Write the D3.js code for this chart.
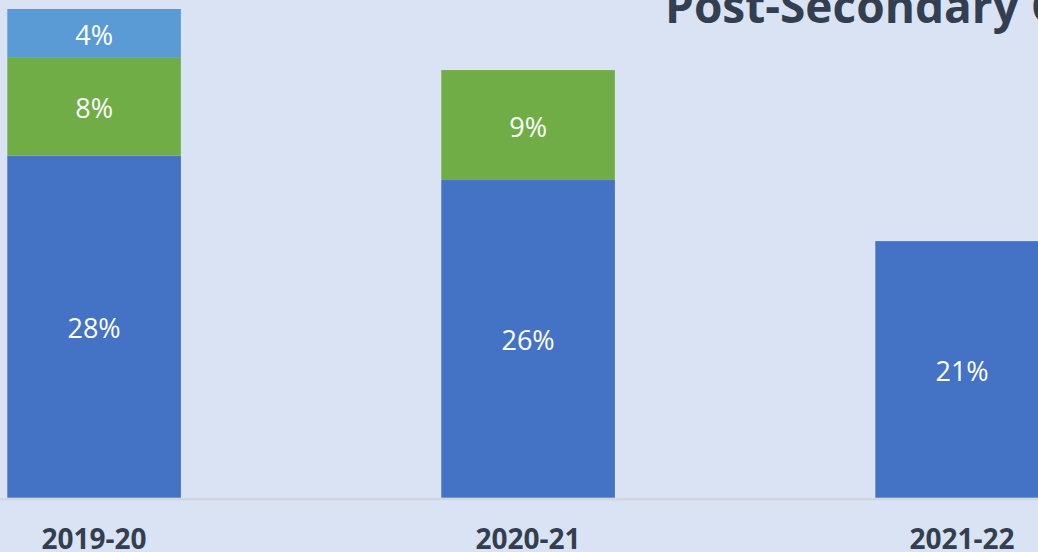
<!DOCTYPE html>
<html>
  <head>
    <meta charset="UTF-8">
    <title>Post-Secondary</title>
    <script src="https://d3js.org/d3.v7.min.js"></script>
    <style>
      body { margin: 0; overflow: hidden; background: #DAE3F3; }
    </style>
  </head>
  <body>
    <svg width="1038" height="552"></svg>

    <script>

const years = ["2019-20", "2020-21", "2021-22"];
const series = ["s1", "s2", "s3"];
const s1Values = [28, 26, 21];
const s2Values = [8, 9, 0];
const s3Values = [4, 0, 0];
const colors = ["#4472C4", "#70AD47", "#5B9BD5"];

const rows = years.map((y, i) => ({ year: y, s1: s1Values[i], s2: s2Values[i], s3: s3Values[i] }));

const svg = d3.select("svg");
const width = +svg.attr("width");
const height = +svg.attr("height");

svg.append("rect")
  .attr("width", width)
  .attr("height", height)
  .attr("fill", "#DAE3F3");

// the picture is a crop of a wider slide, so the band range runs past the right edge
const x = d3.scaleBand()
  .domain(years)
  .range([-122.9, 1179.1])
  .paddingInner(0.6)
  .paddingOuter(0.3);

const y = d3.scaleLinear()
  .domain([0, 40])
  .range([497.7, 9]);

const stacked = d3.stack().keys(series)(rows);

// axis line
svg.append("line")
  .attr("x1", 0)
  .attr("x2", width)
  .attr("y1", y(0) + 1.5)
  .attr("y2", y(0) + 1.5)
  .attr("stroke", "#D0D5DD")
  .attr("stroke-width", 2);

const layer = svg.append("g")
  .selectAll("g")
  .data(stacked)
  .join("g")
  .attr("fill", (d, i) => colors[i]);

layer.selectAll("rect")
  .data(d => d.filter(p => p[1] - p[0] > 0))
  .join("rect")
  .attr("x", d => x(d.data.year))
  .attr("width", x.bandwidth())
  .attr("y", d => y(d[1]))
  .attr("height", d => y(d[0]) - y(d[1]));

layer.selectAll("text")
  .data(d => d.filter(p => p[1] - p[0] > 0))
  .join("text")
  .attr("x", d => x(d.data.year) + x.bandwidth() / 2)
  .attr("y", d => (y(d[0]) + y(d[1])) / 2 + 1)
  .attr("text-anchor", "middle")
  .attr("dominant-baseline", "central")
  .attr("fill", "#fff")
  .attr("font-family", "Open Sans")
  .attr("font-size", 27)
  .text(d => (d[1] - d[0]) + "%");

// category labels
svg.append("g")
  .selectAll("text")
  .data(years)
  .join("text")
  .attr("x", d => x(d) + x.bandwidth() / 2)
  .attr("y", 549)
  .attr("text-anchor", "middle")
  .attr("fill", "#333F50")
  .attr("font-family", "Open Sans")
  .attr("font-weight", "bold")
  .attr("font-size", 28)
  .text(d => d);

// title, cut off by the crop
svg.append("text")
  .attr("x", 665)
  .attr("y", 23)
  .attr("fill", "#333F50")
  .attr("font-family", "Open Sans")
  .attr("font-weight", "bold")
  .attr("font-size", 46)
  .text("Post-Secondary Completion");

    </script>
  </body>
</html>
